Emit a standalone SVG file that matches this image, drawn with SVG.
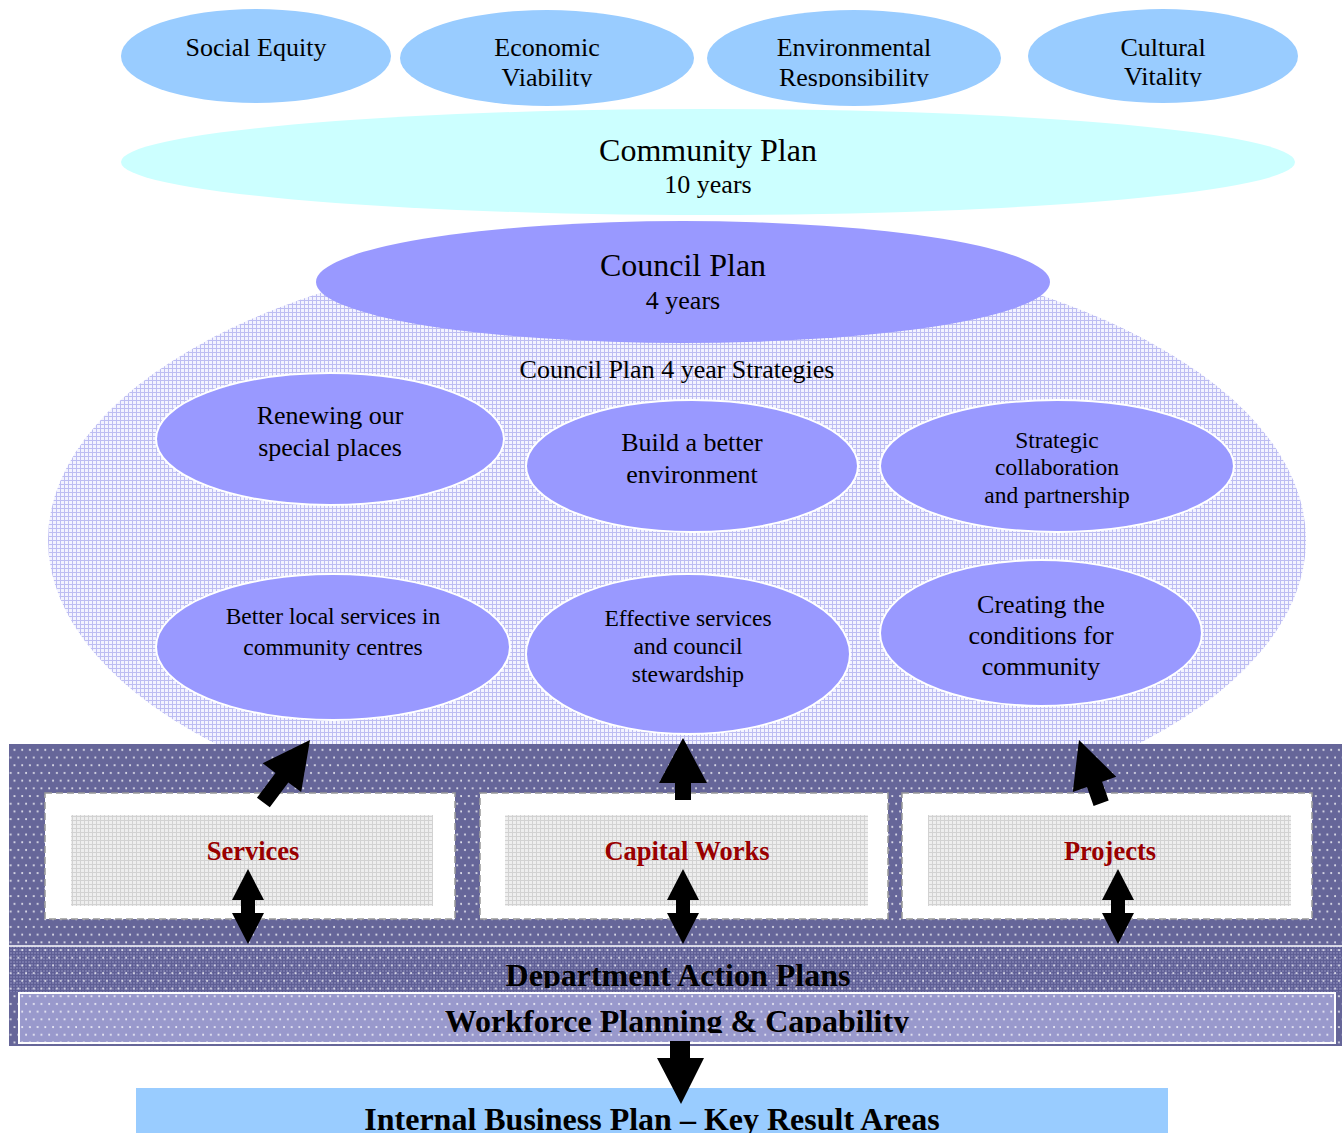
<svg xmlns="http://www.w3.org/2000/svg" width="1342" height="1133" viewBox="0 0 1342 1133">
<style>
text{font-family:"Liberation Serif","Times New Roman",serif;fill:#000;text-anchor:middle}
.t26{font-size:26px}
.t24{font-size:23.5px}
.t32{font-size:32px}
.lbl{font-size:26.5px;font-weight:bold;fill:#990000}
.band{font-size:32px;font-weight:bold}
.top{fill:#99CCFF}
.strat{fill:#9999FF;stroke:#FFFFFF;stroke-width:2}
.box{fill:#FFFFFF;stroke:#999999;stroke-width:1.5;stroke-dasharray:7 4}
.inner{fill:url(#greyGrid)}
.arrow{fill:#000000}
</style>
<defs>
<pattern id="hatchLav" width="4" height="4" patternUnits="userSpaceOnUse">
<rect width="4" height="4" fill="#F3F3FF"/>
<path d="M0 0.5H4M0.5 0V4" stroke="#BDBDF2" stroke-width="1"/>
</pattern>
<pattern id="greyGrid" width="4" height="4" patternUnits="userSpaceOnUse">
<rect width="4" height="4" fill="#EEEEEE"/>
<path d="M0 0.5H4M0.5 0V4" stroke="#D2D2D2" stroke-width="1"/>
</pattern>
<pattern id="deptGrid" width="3" height="3" patternUnits="userSpaceOnUse">
<rect width="3" height="3" fill="#7878AA"/>
<path d="M0 0.5H3M0.5 0V3" stroke="#5F5F95" stroke-width="1"/>
</pattern>
<pattern id="dots" width="15.4" height="15.4" patternUnits="userSpaceOnUse">
<circle cx="3" cy="3" r="1" fill="#FFFFFF" opacity="0.85"/>
<circle cx="10.7" cy="3" r="1" fill="#FFFFFF" opacity="0.85"/>
<circle cx="6.85" cy="10.7" r="1" fill="#FFFFFF" opacity="0.85"/>
<circle cx="14.55" cy="10.7" r="1" fill="#FFFFFF" opacity="0.85"/>
</pattern>
<clipPath id="clipTop"><rect x="0" y="0" width="1342" height="87"/></clipPath>
<clipPath id="clipDept"><rect x="0" y="940" width="1342" height="48"/></clipPath>
<clipPath id="clipWork"><rect x="0" y="995" width="1342" height="38"/></clipPath>
</defs>

<g id="strategy-area">
<ellipse cx="677" cy="540" rx="629" ry="300" fill="url(#hatchLav)"/>
</g>

<g id="social-equity">
<ellipse class="top" cx="256" cy="56" rx="135" ry="47"/>
<text class="t26" x="256" y="56">Social Equity</text>
</g>
<g id="economic-viability">
<ellipse class="top" cx="547" cy="58" rx="147" ry="48"/>
<text class="t26" x="547" y="56">Economic</text>
<text class="t26" x="547" y="86" clip-path="url(#clipTop)">Viability</text>
</g>
<g id="environmental-responsibility">
<ellipse class="top" cx="854" cy="58" rx="147" ry="48"/>
<text class="t26" x="854" y="56">Environmental</text>
<text class="t26" x="854" y="86" clip-path="url(#clipTop)">Responsibility</text>
</g>
<g id="cultural-vitality">
<ellipse class="top" cx="1163" cy="56" rx="135" ry="47"/>
<text class="t26" x="1163" y="56">Cultural</text>
<text class="t26" x="1163" y="85" clip-path="url(#clipTop)">Vitality</text>
</g>

<g id="community-plan">
<ellipse cx="708" cy="162" rx="587" ry="53" fill="#CCFFFF"/>
<text class="t32" x="708" y="161">Community Plan</text>
<text class="t26" x="708" y="193">10 years</text>
</g>

<g id="council-plan">
<ellipse cx="683" cy="282" rx="367" ry="61" fill="#9999FF"/>
<text class="t32" x="683" y="276">Council Plan</text>
<text class="t26" x="683" y="309">4 years</text>
</g>

<g id="strategies-title">
<text class="t26" x="677" y="378">Council Plan 4 year Strategies</text>
</g>

<g id="renewing">
<ellipse class="strat" cx="330" cy="439" rx="174" ry="66"/>
<text class="t26" x="330" y="424">Renewing our</text>
<text class="t26" x="330" y="456">special places</text>
</g>
<g id="build-environment">
<ellipse class="strat" cx="692" cy="466" rx="166" ry="66"/>
<text class="t26" x="692" y="451">Build a better</text>
<text class="t26" x="692" y="483">environment</text>
</g>
<g id="strategic-collaboration">
<ellipse class="strat" cx="1057" cy="466" rx="177" ry="66"/>
<text class="t24" x="1057" y="448">Strategic</text>
<text class="t24" x="1057" y="475">collaboration</text>
<text class="t24" x="1057" y="503">and partnership</text>
</g>
<g id="better-local-services">
<ellipse class="strat" cx="333" cy="647" rx="177" ry="73"/>
<text class="t24" x="333" y="624">Better local services in</text>
<text class="t24" x="333" y="655">community centres</text>
</g>
<g id="effective-services">
<ellipse class="strat" cx="688" cy="654" rx="162" ry="80"/>
<text class="t24" x="688" y="626">Effective services</text>
<text class="t24" x="688" y="654">and council</text>
<text class="t24" x="688" y="682">stewardship</text>
</g>
<g id="creating-conditions">
<ellipse class="strat" cx="1041" cy="633" rx="161" ry="73"/>
<text class="t26" x="1041" y="613">Creating the</text>
<text class="t26" x="1041" y="644">conditions for</text>
<text class="t26" x="1041" y="675">community</text>
</g>

<g id="delivery-band">
<rect x="9" y="744" width="1333" height="302" fill="#666699"/>
<rect x="9" y="744" width="1333" height="302" fill="url(#dots)"/>
</g>

<g id="services">
<rect class="box" x="45" y="793" width="410" height="126"/>
<rect class="inner" x="71" y="815" width="362" height="91"/>
<text class="lbl" x="253" y="860">Services</text>
</g>
<g id="capital-works">
<rect class="box" x="480" y="793" width="408" height="126"/>
<rect class="inner" x="505" y="815" width="363" height="91"/>
<text class="lbl" x="687" y="860">Capital Works</text>
</g>
<g id="projects">
<rect class="box" x="902" y="793" width="410" height="126"/>
<rect class="inner" x="928" y="815" width="363" height="91"/>
<text class="lbl" x="1110" y="860">Projects</text>
</g>

<g id="department-action-plans">
<rect x="9" y="946" width="1333" height="46" fill="url(#deptGrid)"/>
<rect x="9" y="946" width="1333" height="46" fill="url(#dots)"/>
<line x1="9" y1="946" x2="1342" y2="946" stroke="#FFFFFF" stroke-width="1.5"/>
<text class="band" x="678" y="986" clip-path="url(#clipDept)">Department Action Plans</text>
</g>

<g id="workforce-planning">
<rect x="19" y="993" width="1316" height="50" fill="#9999CC" stroke="#FFFFFF" stroke-width="2"/>
<rect x="19" y="993" width="1316" height="50" fill="url(#dots)"/>
<text class="band" x="677" y="1032" clip-path="url(#clipWork)">Workforce Planning &amp; Capability</text>
</g>

<g id="internal-business-plan">
<rect x="136" y="1088" width="1032" height="50" fill="#99CCFF"/>
<text class="band" x="652" y="1130">Internal Business Plan – Key Result Areas</text>
</g>

<g id="connectors">
<path class="arrow" transform="translate(310,740) rotate(36.7)" d="M0,0 L24,47 L8,47 L8,78 L-8,78 L-8,47 L-24,47 Z"/>
<path class="arrow" transform="translate(683,738)" d="M0,0 L24,45 L8,45 L8,62 L-8,62 L-8,45 L-24,45 Z"/>
<path class="arrow" transform="translate(1079,740) rotate(-19.3)" d="M0,0 L23,47 L8,47 L8,67 L-8,67 L-8,47 L-23,47 Z"/>
<path class="arrow" d="M248,869 L264,900 L255,900 L255,913 L264,913 L248,944 L232,913 L241,913 L241,900 L232,900 Z"/>
<path class="arrow" d="M683,869 L699,900 L690,900 L690,913 L699,913 L683,944 L667,913 L676,913 L676,900 L667,900 Z"/>
<path class="arrow" d="M1118,869 L1134,900 L1125,900 L1125,913 L1134,913 L1118,944 L1102,913 L1111,913 L1111,900 L1102,900 Z"/>
<path class="arrow" d="M670,1041 H690 V1058 H704 L681,1104 L657,1058 H670 Z"/>
</g>
</svg>
